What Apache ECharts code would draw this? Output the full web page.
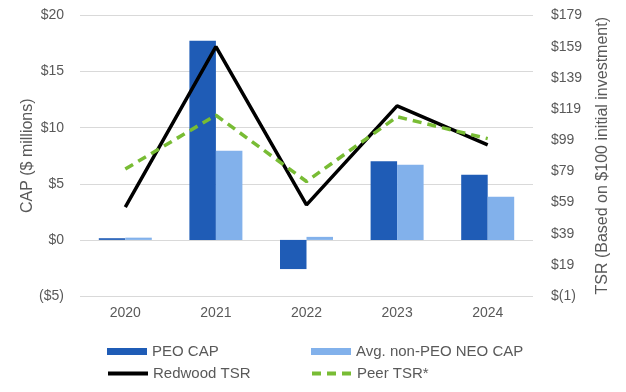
<!DOCTYPE html>
<html><head><meta charset="utf-8">
<script src="https://cdn.jsdelivr.net/npm/echarts@6/dist/echarts.min.js"></script>
<style>html,body{margin:0;padding:0;background:#fff}#c{width:626px;height:392px}</style>
</head><body><div id="c"></div>
<script>
const years = ['2020','2021','2022','2023','2024'];
const peoCap = [0.15, 17.75, -2.6, 7.0, 5.8];
const neoCap = [0.2, 7.95, 0.27, 6.7, 3.85];
const redwoodTSR = [56, 159, 57.5, 121, 96];
const peerTSR = [80.5, 115, 72.5, 114, 100];

const chart = echarts.init(document.getElementById('c'));
const txt = '#595959';
const font = 'Arial, "Liberation Sans", sans-serif';
const legTxt = {color: txt, fontSize: 15, fontFamily: font};
function leg(name, left, top, isLine) {
  const o = {left: left, top: top, itemWidth: 40, itemHeight: isLine ? 14 : 7, icon: isLine ? undefined : 'rect',
    textStyle: legTxt, data: [name], padding: 0, itemGap: 0};
  if (isLine) { o.itemStyle = {opacity: 0}; o.lineStyle = {width: 4}; }
  return o;
}
chart.setOption({
  animation: false,
  textStyle: {fontFamily: font},
  grid: {left: 80, right: 93, top: 15.5, bottom: 96},
  legend: [
    leg('PEO CAP', 107, 344, false),
    leg('Avg. non-PEO NEO CAP', 311, 344, false),
    leg('Redwood TSR', 106, 366, true),
    leg('Peer TSR*', 310, 366, true)
  ],
  xAxis: {type: 'category', data: years,
    axisLine: {show: false}, axisTick: {show: false},
    axisLabel: {color: txt, fontSize: 14, margin: 10}},
  yAxis: [
    {type: 'value', min: -5, max: 20, interval: 5, name: 'CAP ($ millions)',
     nameLocation: 'middle', nameGap: 52, nameRotate: 90, nameMoveOverlap: false,
     nameTextStyle: {color: txt, fontSize: 16, verticalAlign: 'middle'},
     axisLabel: {color: txt, fontSize: 14, margin: 16,
       formatter: v => v < 0 ? '($' + (-v) + ')' : '$' + v},
     splitLine: {lineStyle: {color: '#d9d9d9'}}, axisLine: {show: false}, axisTick: {show: false}},
    {type: 'value', min: -1, max: 179, interval: 20, name: 'TSR (Based on $100 initial investment)',
     nameLocation: 'middle', nameGap: 70, nameRotate: 90, nameMoveOverlap: false,
     nameTextStyle: {color: txt, fontSize: 16, verticalAlign: 'middle'},
     axisLabel: {color: txt, fontSize: 14, margin: 18,
       formatter: v => v < 0 ? '$(' + (-v) + ')' : '$' + v},
     splitLine: {show: false}, axisLine: {show: false}, axisTick: {show: false}}
  ],
  series: [
    {name: 'PEO CAP', type: 'bar', data: peoCap, barWidth: 26.5, barGap: '0%',
     itemStyle: {color: '#1F5CB6'}},
    {name: 'Avg. non-PEO NEO CAP', type: 'bar', data: neoCap, barWidth: 26.5, barGap: '0%',
     itemStyle: {color: '#82B1EB'}},
    {name: 'Redwood TSR', type: 'line', yAxisIndex: 1, data: redwoodTSR, symbol: 'none',
     lineStyle: {color: '#000', width: 3.5}, itemStyle: {color: '#000'}},
    {name: 'Peer TSR*', type: 'line', yAxisIndex: 1, data: peerTSR, symbol: 'none',
     lineStyle: {color: '#78BC34', width: 3.5, type: [9, 6]}, itemStyle: {color: '#78BC34'}}
  ]
});
</script></body></html>
